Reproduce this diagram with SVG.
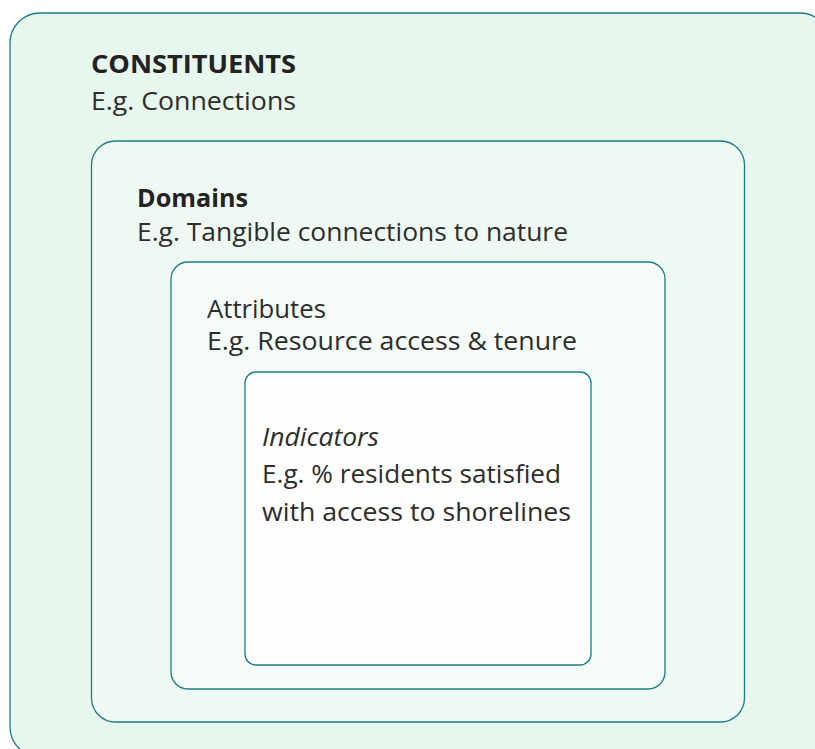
<svg xmlns="http://www.w3.org/2000/svg" width="815" height="749" viewBox="0 0 815 749">
<style>
.box{stroke:#1b7d84;stroke-width:1.3}
.t{font-family:"Open Sans","Noto Sans","Liberation Sans",sans-serif;font-size:25px;fill:#2d2d2d}
.b{font-weight:700;fill:#222}
.i{font-style:italic}
</style>
<rect width="815" height="749" fill="#ffffff"/>
<g id="constituents">
<rect class="box" x="10" y="13" width="820" height="744" rx="30" fill="#e7f7ee"/>
<text class="t b" x="91" y="73" textLength="205" lengthAdjust="spacingAndGlyphs">CONSTITUENTS</text>
<text class="t" x="91" y="110" textLength="205" lengthAdjust="spacingAndGlyphs">E.g. Connections</text>
</g>
<g id="domains">
<rect class="box" x="91.5" y="141" width="653" height="581" rx="24" fill="#eff9f4"/>
<text class="t b" x="137" y="207" textLength="111" lengthAdjust="spacingAndGlyphs">Domains</text>
<text class="t" x="137" y="240.5" textLength="431" lengthAdjust="spacingAndGlyphs">E.g. Tangible connections to nature</text>
</g>
<g id="attributes">
<rect class="box" x="171" y="262" width="494" height="427" rx="17" fill="#f4fbf8"/>
<text class="t" x="207" y="318" textLength="119" lengthAdjust="spacingAndGlyphs">Attributes</text>
<text class="t" x="207" y="350" textLength="370" lengthAdjust="spacingAndGlyphs">E.g. Resource access &amp; tenure</text>
</g>
<g id="indicators">
<rect class="box" x="245" y="372" width="346" height="293" rx="11" fill="#fefefe"/>
<text class="t i" x="262" y="446" textLength="117" lengthAdjust="spacingAndGlyphs">Indicators</text>
<text class="t" x="262" y="483" textLength="299" lengthAdjust="spacingAndGlyphs">E.g. % residents satisfied</text>
<text class="t" x="262" y="521" textLength="309" lengthAdjust="spacingAndGlyphs">with access to shorelines</text>
</g>
<g id="connectors"/>
</svg>
